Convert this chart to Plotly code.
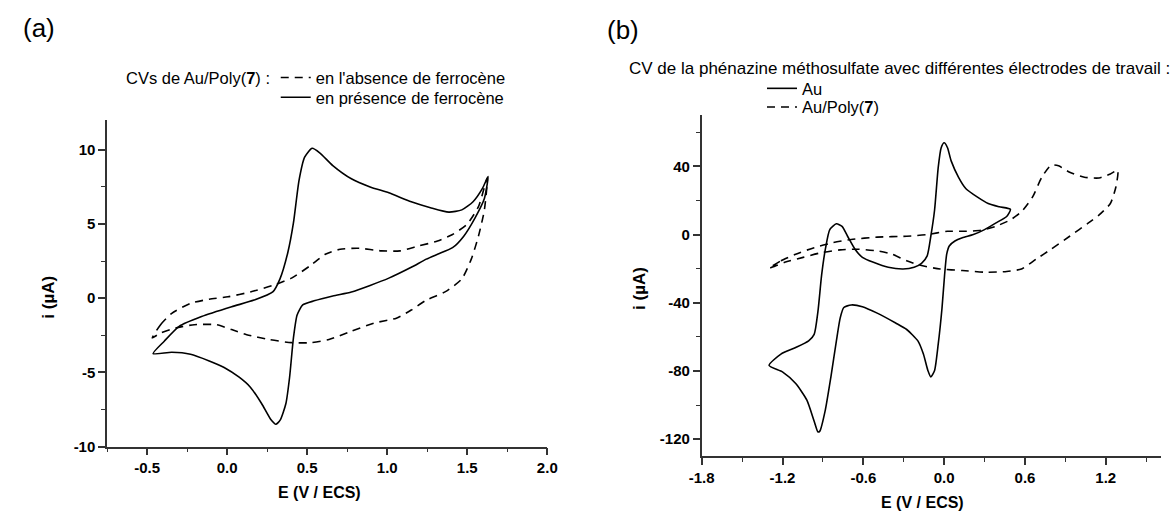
import plotly.graph_objects as go

# ---------------- data ----------------
# Panel (a): CVs of Au/Poly(7)
A_ABS_E = [-0.468, -0.416, -0.346, -0.229, -0.112, 0.005, 0.145, 0.285, 0.402, 0.519, 0.613, 0.706,
           0.823, 0.964, 1.08, 1.197, 1.314, 1.408, 1.50, 1.57, 1.625, 1.607, 1.57, 1.525, 1.466, 1.361,
           1.244, 1.15, 1.057, 0.917, 0.776, 0.636, 0.519, 0.402, 0.262, 0.122, 0.028, -0.065, -0.206,
           -0.323, -0.416, -0.468]
A_ABS_I = [-2.68, -1.79, -1.02, -0.35, -0.07, 0.09, 0.42, 0.86, 1.35, 2.19, 2.96, 3.3,
           3.36, 3.19, 3.19, 3.52, 3.85, 4.29, 5.0, 6.17, 8.1, 5.95, 4.18, 2.63, 1.3, 0.42,
           -0.13, -0.8, -1.35, -1.68, -2.23, -2.79, -3.0, -3.0, -2.79, -2.46, -2.12, -1.79, -1.79,
           -2.01, -2.35, -2.68]

A_PRES_E = [-0.463, -0.393, -0.30, -0.16, 0.028, 0.168, 0.285, 0.33, 0.379, 0.414, 0.449, 0.484,
            0.531, 0.578, 0.66, 0.776, 0.893, 1.01, 1.15, 1.27, 1.385, 1.466, 1.536, 1.595, 1.63,
            1.607, 1.548, 1.478, 1.408, 1.314, 1.244, 1.15, 1.01, 0.893, 0.776, 0.66, 0.543, 0.472,
            0.437, 0.414, 0.39, 0.367, 0.332, 0.304, 0.274, 0.215, 0.145, 0.075, -0.019, -0.112,
            -0.229, -0.346, -0.463]
A_PRES_I = [-3.74, -2.9, -1.9, -1.24, -0.58, -0.13, 0.42, 1.3, 3.08, 5.07, 7.94, 9.5,
            10.1, 9.8, 8.94, 8.05, 7.5, 7.1, 6.5, 6.1, 5.8, 5.95, 6.5, 7.4, 8.2,
            6.72, 5.4, 4.18, 3.4, 2.96, 2.63, 2.08, 1.35, 0.86, 0.42, 0.15, -0.18, -0.46,
            -1.13, -2.68, -5.33, -7.1, -8.2, -8.5, -8.2, -7.1, -6.0, -5.33, -4.67, -4.23,
            -3.78, -3.65, -3.74]

# Panel (b): phenazine methosulfate
B_AU_E = [-1.30, -1.212, -1.102, -1.006, -0.965, -0.937, -0.910, -0.882, -0.849, -0.80, -0.758,
          -0.717, -0.662, -0.607, -0.525, -0.415, -0.305, -0.223, -0.168, -0.126, -0.099, -0.071,
          -0.044, -0.022, 0.0, 0.025, 0.052, 0.107, 0.162, 0.245, 0.327, 0.409, 0.492, 0.464,
          0.382, 0.30, 0.217, 0.135, 0.08, 0.038, 0.019, 0.003, -0.016, -0.044, -0.071, -0.099,
          -0.121, -0.154, -0.195, -0.278, -0.36, -0.497, -0.607, -0.69, -0.745, -0.772, -0.80,
          -0.841, -0.882, -0.923, -0.937, -0.965, -1.02, -1.102, -1.198, -1.30]
B_AU_I = [-76.8, -70.1, -66.3, -62.4, -58.6, -45.1, -24.0, -8.6, 2.9, 6.3, 4.8,
          -1.0, -8.6, -13.4, -16.3, -19.2, -20.2, -19.2, -16.9, -12.5, -1.0, 14.4,
          39.4, 50.9, 53.8, 50.9, 43.2, 33.6, 26.9, 22.1, 18.2, 16.3, 14.8, 10.6,
          6.7, 2.9, 0.0, -1.9, -3.8, -6.7, -11.5, -24.0, -43.2, -64.3, -79.7, -83.6,
          -79.7, -70.1, -62.4, -55.7, -51.9, -46.1, -42.3, -41.3, -42.8, -49.0, -62.4,
          -83.6, -102.8, -115.3, -115.8, -109.5, -97.0, -87.4, -80.7, -76.8]

B_POLY_E = [-1.30, -1.212, -1.102, -0.965, -0.827, -0.69, -0.497, -0.278, -0.126, 0.025, 0.162,
            0.272, 0.382, 0.492, 0.574, 0.657, 0.725, 0.794, 0.849, 0.932, 1.041, 1.151, 1.234,
            1.289, 1.275, 1.234, 1.151, 1.069, 0.932, 0.794, 0.684, 0.574, 0.464, 0.30, 0.135,
            -0.03, -0.168, -0.278, -0.387, -0.497, -0.635, -0.772, -0.91, -1.047, -1.184, -1.30]
B_POLY_I = [-19.8, -15.4, -11.5, -7.7, -4.8, -2.9, -1.5, -1.0, 0.0, 1.9, 1.9,
            2.5, 4.8, 8.6, 13.4, 22.1, 33.6, 40.7, 40.3, 36.5, 33.6, 33.2, 35.5,
            37.8, 27.9, 18.2, 11.5, 6.7, -1.0, -8.6, -14.4, -20.2, -21.7, -22.1, -21.1,
            -20.2, -18.2, -15.4, -11.5, -9.6, -8.6, -9.0, -10.6, -13.4, -16.3, -19.8]

# tick values / labels
A_XTICKS = [-0.5, 0.0, 0.5, 1.0, 1.5, 2.0]
A_XTICKTEXT = ["-0.5", "0.0", "0.5", "1.0", "1.5", "2.0"]
A_YTICKS = [-10, -5, 0, 5, 10]
A_YTICKTEXT = ["-10", "-5", "0", "5", "10"]
B_XTICKS = [-1.8, -1.2, -0.6, 0.0, 0.6, 1.2]
B_XTICKTEXT = ["-1.8", "-1.2", "-0.6", "0.0", "0.6", "1.2"]
B_YTICKS = [-120, -80, -40, 0, 40]
B_YTICKTEXT = ["-120", "-80", "-40", "0", "40"]

# ---------------- figure ----------------
W, H = 1171, 520
FONT = "Liberation Sans, Arial, Helvetica, sans-serif"
LINE = dict(color="black", width=1.6)
DASH = "8px,6px"


def px_x(p):
    return p / W


def px_y(p):
    return 1 - p / H


fig = go.Figure()

fig.add_trace(go.Scatter(x=A_ABS_E, y=A_ABS_I, mode="lines", name="en l'absence de ferrocène",
                         line=dict(**LINE, dash=DASH, shape="spline", smoothing=0.6),
                         xaxis="x", yaxis="y", legend="legend"))
fig.add_trace(go.Scatter(x=A_PRES_E, y=A_PRES_I, mode="lines", name="en présence de ferrocène",
                         line=dict(**LINE, shape="spline", smoothing=0.6),
                         xaxis="x", yaxis="y", legend="legend3"))
fig.add_trace(go.Scatter(x=B_AU_E, y=B_AU_I, mode="lines", name="Au",
                         line=dict(**LINE, shape="spline", smoothing=0.6),
                         xaxis="x2", yaxis="y2", legend="legend2"))
fig.add_trace(go.Scatter(x=B_POLY_E, y=B_POLY_I, mode="lines", name="Au/Poly(<b>7</b>)",
                         line=dict(**LINE, dash=DASH, shape="spline", smoothing=0.6),
                         xaxis="x2", yaxis="y2", legend="legend4"))

AX = dict(showline=True, linecolor="#333333", linewidth=1.6, ticks="outside", ticklen=7,
          tickwidth=1.6, tickcolor="#333333", showgrid=False, zeroline=False, mirror=False,
          tickfont=dict(family=FONT, size=15, color="black", weight="bold"), fixedrange=True)
MINOR = dict(ticks="outside", ticklen=4, tickwidth=1.4, tickcolor="#333333", showgrid=False)


def leg(xp, yp):
    return dict(x=px_x(xp), y=px_y(yp), xanchor="left", yanchor="middle",
                bgcolor="rgba(0,0,0,0)", borderwidth=0, itemwidth=30,
                font=dict(family=FONT, size=16.5, color="black"))


fig.update_layout(
    width=W, height=H, margin=dict(l=0, r=0, t=0, b=0, pad=0),
    paper_bgcolor="white", plot_bgcolor="white",
    font=dict(family=FONT, color="black"),
    xaxis=dict(**AX, domain=[px_x(96), px_x(545)], range=[-0.75, 2.0], anchor="y",
               tickmode="array", tickvals=A_XTICKS, ticktext=A_XTICKTEXT,
               minor=dict(**MINOR, dtick=0.25, tick0=0)),
    yaxis=dict(**AX, domain=[1 - 453.5 / H, 1 - 122 / H], range=[-10, 12], anchor="x",
               tickmode="array", tickvals=A_YTICKS, ticktext=A_YTICKTEXT,
               minor=dict(**MINOR, dtick=2.5, tick0=0)),
    xaxis2=dict(**AX, domain=[px_x(702.5), 1.0], range=[-1.8, 1.61], anchor="y2",
                tickmode="array", tickvals=B_XTICKS, ticktext=B_XTICKTEXT,
                minor=dict(**MINOR, dtick=0.3, tick0=0)),
    yaxis2=dict(**AX, domain=[1 - 463.3 / H, 1 - 117 / H], range=[-130, 70], anchor="x2",
                tickmode="array", tickvals=B_YTICKS, ticktext=B_YTICKTEXT,
                minor=dict(**MINOR, dtick=20, tick0=0)),
    legend=leg(268, 79),
    legend3=leg(268, 99),
    legend2=leg(764, 90),
    legend4=leg(764, 109),
    showlegend=True,
)

ANN = []
ANN.append(dict(text="(a)", x=px_x(8), y=px_y(28), xanchor="left", yanchor="middle",
                font=dict(family=FONT, size=26, color="black")))
ANN.append(dict(text="(b)", x=px_x(604), y=px_y(30), xanchor="left", yanchor="middle",
                font=dict(family=FONT, size=26, color="black")))
ANN.append(dict(text="CVs de Au/Poly(<b>7</b>) :", x=px_x(264), y=px_y(79), xanchor="right",
                yanchor="middle", font=dict(family=FONT, size=16.5, color="black")))
ANN.append(dict(text="CV de la phénazine méthosulfate avec différentes électrodes de travail :",
                x=px_x(626), y=px_y(70), xanchor="left", yanchor="middle",
                font=dict(family=FONT, size=17, color="black")))
ANN.append(dict(text="<b>E (V / ECS)</b>", x=px_x(313), y=px_y(500), xanchor="center", yanchor="middle",
                font=dict(family=FONT, size=16, color="black")))
ANN.append(dict(text="<b>E (V / ECS)</b>", x=px_x(928), y=px_y(510), xanchor="center", yanchor="middle",
                font=dict(family=FONT, size=16, color="black")))
ANN.append(dict(text="<b>i (µA)</b>", x=px_x(36), y=px_y(302), xanchor="center", yanchor="middle",
                textangle=-90, font=dict(family=FONT, size=17, color="black")))
ANN.append(dict(text="<b>i (µA)</b>", x=px_x(639), y=px_y(293), xanchor="center", yanchor="middle",
                textangle=-90, font=dict(family=FONT, size=17, color="black")))
for a in ANN:
    a.update(xref="paper", yref="paper", showarrow=False)
fig.update_layout(annotations=ANN)

fig.write_html("out.html")
